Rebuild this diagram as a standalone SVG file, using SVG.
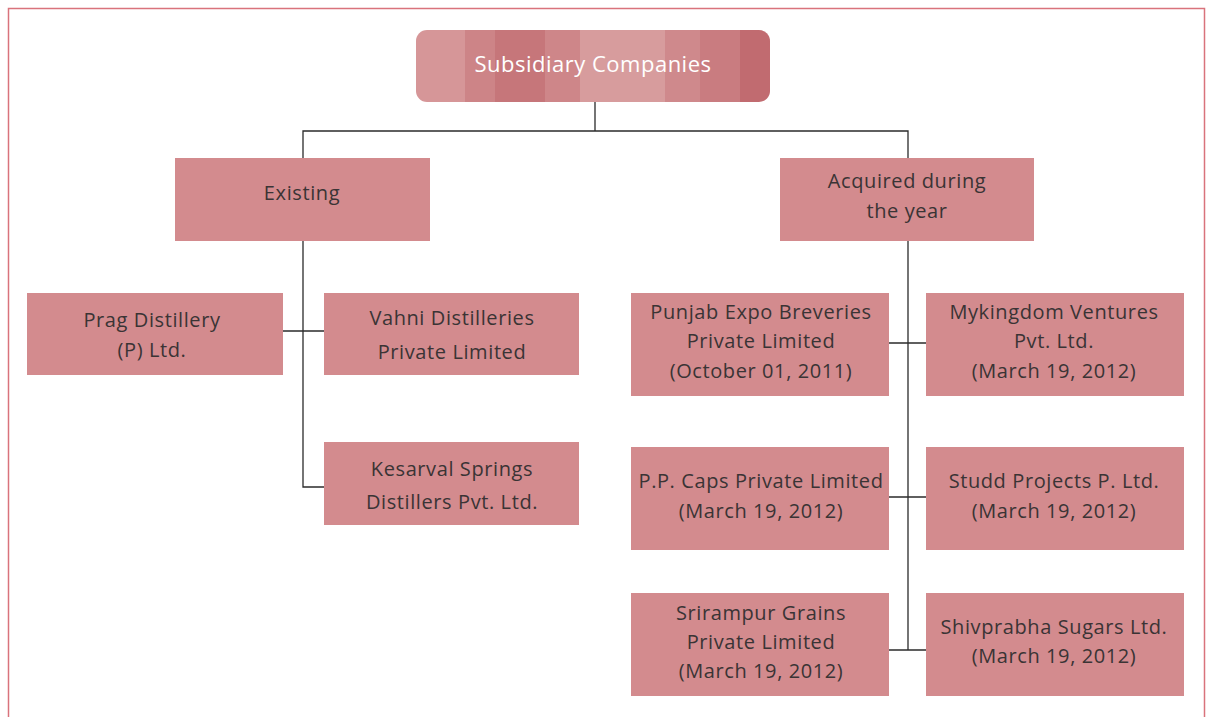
<svg xmlns="http://www.w3.org/2000/svg" width="1207" height="717" viewBox="0 0 1207 717">
<defs>
<style>
.box{fill:#d38b8e}
.t{font-family:"Open Sans","Liberation Sans",sans-serif;font-size:20px;font-weight:400;letter-spacing:0.6px;fill:#3a3435;text-anchor:middle}
.w{font-family:"Open Sans","Liberation Sans",sans-serif;font-size:22px;font-weight:400;letter-spacing:0.5px;fill:#ffffff;text-anchor:middle}
.ln{stroke:#2b2b2b;stroke-width:1.3;fill:none}
</style>
<linearGradient id="stripes" x1="416" y1="0" x2="770" y2="0" gradientUnits="userSpaceOnUse">
<stop offset="0" stop-color="#d69698"/>
<stop offset="0.138" stop-color="#d69698"/>
<stop offset="0.138" stop-color="#cd8487"/>
<stop offset="0.223" stop-color="#cd8487"/>
<stop offset="0.223" stop-color="#c6767a"/>
<stop offset="0.364" stop-color="#c6767a"/>
<stop offset="0.364" stop-color="#ce8689"/>
<stop offset="0.463" stop-color="#ce8689"/>
<stop offset="0.463" stop-color="#d79c9d"/>
<stop offset="0.703" stop-color="#d79c9d"/>
<stop offset="0.703" stop-color="#cf898c"/>
<stop offset="0.802" stop-color="#cf898c"/>
<stop offset="0.802" stop-color="#c97c80"/>
<stop offset="0.915" stop-color="#c97c80"/>
<stop offset="0.915" stop-color="#c16b70"/>
<stop offset="1" stop-color="#c16b70"/>
</linearGradient>
</defs>
<rect width="1207" height="717" fill="#ffffff"/>
<g id="frame">
<path d="M8.5 717 V8.5 H1204.5 V717" fill="none" stroke="#d9737c" stroke-width="1.5"/>
</g>
<g id="connectors">
<path class="ln" d="M595 102 V131 M303 158 V131 H908 V158"/>
<path class="ln" d="M303 241 V487 H324 M283 331 H324"/>
<path class="ln" d="M908 241 V650 M889 343 H926 M889 497 H926 M889 650 H926"/>
</g>
<g id="root">
<rect x="416" y="30" width="354" height="72" rx="11" fill="url(#stripes)"/>
<text class="w" x="593" y="72">Subsidiary Companies</text>
</g>
<g id="existing">
<rect class="box" x="175" y="158" width="255" height="83"/>
<text class="t" x="302" y="200">Existing</text>
</g>
<g id="acquired">
<rect class="box" x="780" y="158" width="254" height="83"/>
<text class="t" x="907" y="188">Acquired during</text>
<text class="t" x="907" y="218">the year</text>
</g>
<g id="prag">
<rect class="box" x="27" y="293" width="256" height="82"/>
<text class="t" x="152" y="327">Prag Distillery</text>
<text class="t" x="152" y="357">(P) Ltd.</text>
</g>
<g id="vahni">
<rect class="box" x="324" y="293" width="255" height="82"/>
<text class="t" x="452" y="325">Vahni Distilleries</text>
<text class="t" x="452" y="359">Private Limited</text>
</g>
<g id="kesarval">
<rect class="box" x="324" y="442" width="255" height="83"/>
<text class="t" x="452" y="476">Kesarval Springs</text>
<text class="t" x="452" y="509">Distillers Pvt. Ltd.</text>
</g>
<g id="punjab">
<rect class="box" x="631" y="293" width="258" height="103"/>
<text class="t" x="761" y="319">Punjab Expo Breveries</text>
<text class="t" x="761" y="348">Private Limited</text>
<text class="t" x="761" y="378">(October 01, 2011)</text>
</g>
<g id="mykingdom">
<rect class="box" x="926" y="293" width="258" height="103"/>
<text class="t" x="1054" y="319">Mykingdom Ventures</text>
<text class="t" x="1054" y="348">Pvt. Ltd.</text>
<text class="t" x="1054" y="378">(March 19, 2012)</text>
</g>
<g id="ppcaps">
<rect class="box" x="631" y="447" width="258" height="103"/>
<text class="t" x="761" y="488">P.P. Caps Private Limited</text>
<text class="t" x="761" y="518">(March 19, 2012)</text>
</g>
<g id="studd">
<rect class="box" x="926" y="447" width="258" height="103"/>
<text class="t" x="1054" y="488">Studd Projects P. Ltd.</text>
<text class="t" x="1054" y="518">(March 19, 2012)</text>
</g>
<g id="srirampur">
<rect class="box" x="631" y="593" width="258" height="103"/>
<text class="t" x="761" y="620">Srirampur Grains</text>
<text class="t" x="761" y="649">Private Limited</text>
<text class="t" x="761" y="678">(March 19, 2012)</text>
</g>
<g id="shivprabha">
<rect class="box" x="926" y="593" width="258" height="103"/>
<text class="t" x="1054" y="634">Shivprabha Sugars Ltd.</text>
<text class="t" x="1054" y="663">(March 19, 2012)</text>
</g>
</svg>
